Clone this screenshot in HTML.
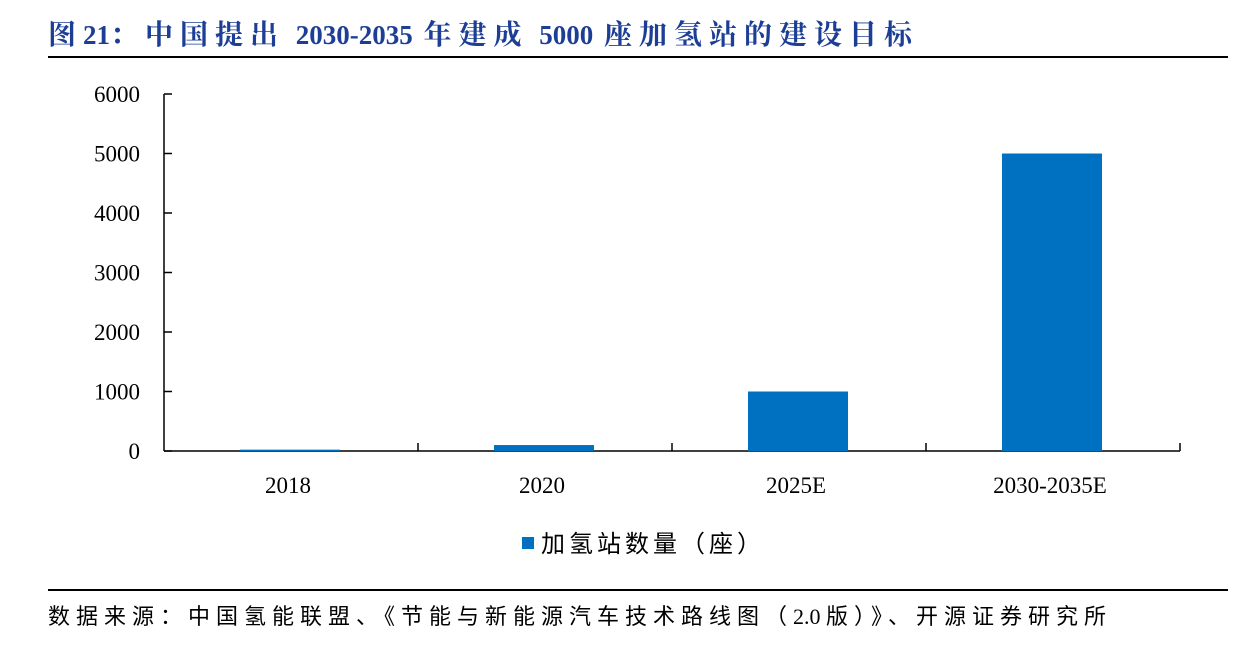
<!DOCTYPE html>
<html><head><meta charset="utf-8"><style>
body{margin:0;background:#fff;width:1247px;height:654px;overflow:hidden;position:relative;font-family:"Liberation Serif","Noto Serif CJK SC",serif}
.t{position:absolute;left:48px;top:13px;font-size:27px;font-weight:bold;color:#1c3f95;white-space:nowrap;word-spacing:4px}
.t .c{font-size:28px;letter-spacing:7px}
.f{position:absolute;left:48px;top:599px;font-size:22px;color:#000;font-family:"Liberation Serif","Noto Sans CJK SC",sans-serif;white-space:nowrap}
.f .c{letter-spacing:6px}
.hr{position:absolute;left:48px;width:1180px;height:2px;background:#000}
</style></head><body>
<div class="t"><span class="c">图</span>21<span class="c">：中国提出</span> 2030-2035 <span class="c">年建成</span> 5000 <span class="c">座加氢站的建设目标</span></div>
<div class="hr" style="top:56px"></div>
<svg width="1247" height="654" style="position:absolute;left:0;top:0" id="c"></svg>
<div class="hr" style="top:589px;height:1.5px"></div>
<div class="f"><span class="c">数据来源：中国氢能联盟、《节能与新能源汽车技术路线图（</span>2.0 <span class="c">版）》、开源证券研究所</span></div>
<script>
const categories=["2018","2020","2025E","2030-2035E"];
const values=[23,100,1000,5000];
const yTicks=[0,1000,2000,3000,4000,5000,6000];
const ns="http://www.w3.org/2000/svg",svg=document.getElementById('c');
const x0=164,x1=1180,y0=451,y1=94,yMax=6000;
const y=v=>y0-(v/yMax)*(y0-y1);
const bw=(x1-x0)/categories.length;
function mk(t,a){const e=document.createElementNS(ns,t);for(const k in a)e.setAttribute(k,a[k]);svg.appendChild(e);return e;}
let ax=mk('line',{x1:x0,y1:y1,x2:x0,y2:y0,stroke:'#000','stroke-width':1.5});


let bx=mk('line',{x1:x0,y1:y0,x2:x1,y2:y0,stroke:'#000','stroke-width':1.5});


yTicks.forEach(v=>{
 mk('line',{x1:x0,y1:y(v),x2:x0+8,y2:y(v),stroke:'#000','stroke-width':1.5});
 const t=mk('text',{x:x0-24,y:y(v)+8,'text-anchor':'end','font-size':23,'font-family':'Liberation Serif'});
 t.textContent=v;
 
 
});
categories.forEach((c,i)=>{
 const cx=x0+bw*(i+0.5);
 mk('line',{x1:x0+bw*(i+1),y1:y0,x2:x0+bw*(i+1),y2:y0-8,stroke:'#000','stroke-width':1.5});
 const r=mk('rect',{x:cx-51,y:y(values[i]),width:100,height:y0-y(values[i]),fill:'#0070c0'});
 
 
 const t=mk('text',{x:cx-3,y:493,'text-anchor':'middle','font-size':23,'font-family':'Liberation Serif'});
 t.textContent=c;
 
 
});
const ls=mk('rect',{x:522,y:537,width:12,height:12,fill:'#0070c0'});


const lt=mk('text',{x:541,y:552,'font-size':24,'letter-spacing':4,'font-family':'Liberation Serif, Noto Sans CJK SC, sans-serif'});
lt.textContent='加氢站数量（座）';


</script>
</body></html>
